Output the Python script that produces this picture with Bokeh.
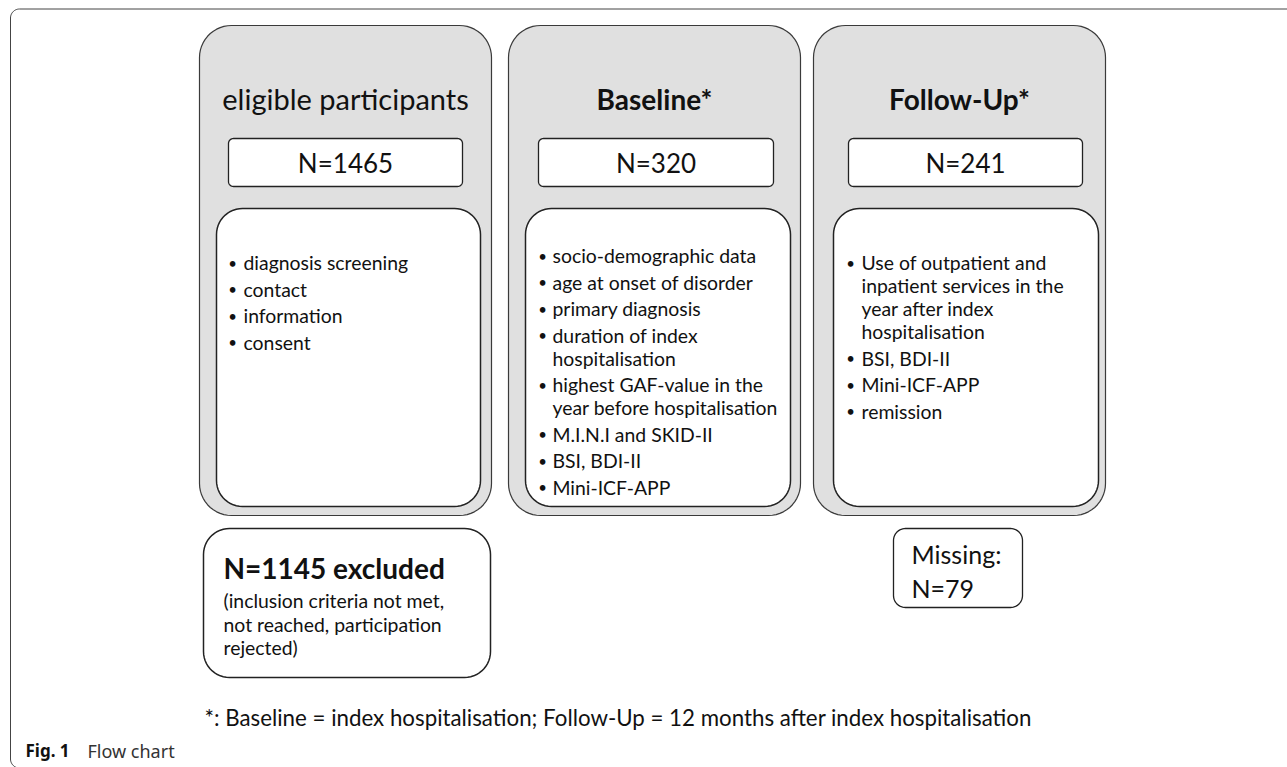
import numpy as np
from bokeh.plotting import figure
from bokeh.models import Range1d
from bokeh.core.properties import value
from bokeh.embed import file_html
from bokeh.resources import INLINE

# ---------------- data ----------------
stage_titles = ["eligible participants", "Baseline*", "Follow-Up*"]
stage_title_bold = [False, True, True]
stage_n = [1465, 320, 241]
stage_items = [
    [["diagnosis screening"], ["contact"], ["information"], ["consent"]],
    [["socio-demographic data"], ["age at onset of disorder"], ["primary diagnosis"],
     ["duration of index", "hospitalisation"],
     ["highest GAF-value in the", "year before hospitalisation"],
     ["M.I.N.I and SKID-II"], ["BSI, BDI-II"], ["Mini-ICF-APP"]],
    [["Use of outpatient and", "inpatient services in the", "year after index", "hospitalisation"],
     ["BSI, BDI-II"], ["Mini-ICF-APP"], ["remission"]],
]
excluded_n = 1145
excluded_reasons = ["(inclusion criteria not met,", "not reached, participation", "rejected)"]
missing_n = 79
footnote = "*: Baseline = index hospitalisation; Follow-Up = 12 months after index hospitalisation"
caption_label = "Fig. 1"
caption_text = "Flow chart"

# ---------------- layout ----------------
W, H = 1287, 767
FONT = "Lato"
panel_left = [199, 508, 813]
panel_w = 292
panel_top, panel_bot = 25, 515
nbox_l = [228, 538, 848]
nbox_r = [462, 773, 1082]
inner_l = [216, 525, 833]
inner_r = [480, 790, 1098]
bullet_x = [232, 542, 850]
text_x = [243, 552, 861]
first_y = [262, 255, 262]
LINE_GAP, ITEM_GAP = 23, 26.5


def rrect(x0, y0, x1, y1, r, n=14):
    pts = []
    for cx, cy, a0 in [(x0 + r, y0 + r, np.pi), (x1 - r, y0 + r, 1.5 * np.pi),
                       (x1 - r, y1 - r, 0.0), (x0 + r, y1 - r, 0.5 * np.pi)]:
        a = np.linspace(a0, a0 + 0.5 * np.pi, n)
        pts.extend(zip(cx + r * np.cos(a), cy + r * np.sin(a)))
    xs, ys = zip(*pts)
    return list(xs), list(ys)


p = figure(width=W, height=H, x_range=Range1d(0, W), y_range=Range1d(H, 0),
           output_backend="svg", toolbar_location=None, min_border=0)
p.axis.visible = False
p.grid.visible = False
p.outline_line_color = None
p.background_fill_color = "white"


def box(x0, y0, x1, y1, r, fill, line, lw):
    xs, ys = rrect(x0, y0, x1, y1, r)
    p.patch(xs, ys, fill_color=fill, line_color=line, line_width=lw)


def txt(x, y, s, size, bold=False, align="left", font=FONT, color="#111111"):
    p.text(x=[x], y=[y], text=[s], text_font=value(font), text_font_size=f"{size}px",
           text_font_style="bold" if bold else "normal", text_align=align,
           text_baseline="middle", text_color=color)


# outer frame
box(10, 8.5, 1330, 767.5, 9, "white", "#444444", 1)

for i in range(3):
    x0 = panel_left[i]
    box(x0, panel_top, x0 + panel_w, panel_bot, 32, "#e0e0e0", "#3a3a3a", 1.2)
    txt(x0 + panel_w / 2, 98, stage_titles[i], 28 if stage_title_bold[i] else 29,
        bold=stage_title_bold[i], align="center")
    box(nbox_l[i], 138, nbox_r[i], 186, 5, "white", "#222222", 1.3)
    txt((nbox_l[i] + nbox_r[i]) / 2, 162, f"N={stage_n[i]}", 26, align="center")
    box(inner_l[i], 208, inner_r[i], 506, 26, "white", "#222222", 1.5)
    y = first_y[i]
    for item in stage_items[i]:
        txt(bullet_x[i], y, "•", 15, align="center")
        for j, line in enumerate(item):
            if j > 0:
                y += LINE_GAP
            txt(text_x[i], y, line, 19.4)
        y += ITEM_GAP

# excluded box
box(203, 528, 490, 677, 26, "white", "#222222", 1.5)
txt(223, 567, f"N={excluded_n} excluded", 28, bold=True)
for k, line in enumerate(excluded_reasons):
    txt(223, 600 + k * 23.5, line, 19.4)

# missing box
box(893, 528, 1022, 607, 12, "white", "#222222", 1.3)
txt(911, 553, "Missing:", 25)
txt(911, 587, f"N={missing_n}", 25)

# footnote and caption
txt(204, 717, footnote, 22.3)
txt(25, 750, caption_label, 17, bold=True, font="Noto Sans")
txt(87, 750, caption_text, 18, font="Noto Sans", color="#333333")

open("out.html", "w").write(file_html(p, INLINE))
